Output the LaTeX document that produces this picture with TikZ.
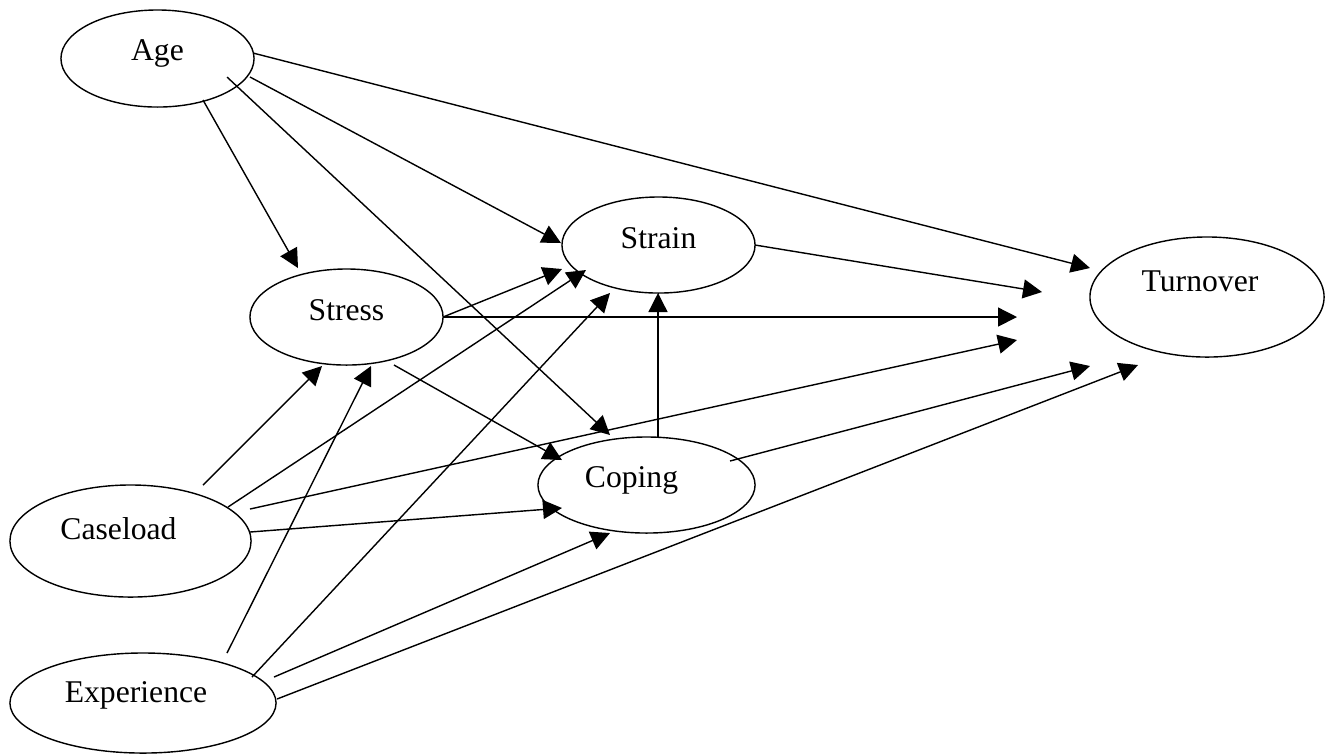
\documentclass[tikz,border=0pt]{standalone}
\usepackage{fontspec}
\setmainfont{Liberation Serif}
\usetikzlibrary{shapes.geometric,arrows.meta}
\tikzset{
	var/.style={draw,ellipse,line width=0.4pt,inner sep=0pt},
	vartext/.style={font=\fontsize{9}{11}\selectfont},
	link/.style={-{Triangle[length=5.4pt,width=5.4pt]},line width=0.4pt}
}
\begin{document}
\begin{tikzpicture}[x=0.01cm,y=-0.01cm]
\useasboundingbox (0,0) rectangle (1328,753);
\node[var,minimum width=1.93cm,minimum height=0.97cm,label={[vartext,yshift=0.055cm]center:Age}] (age) at (157.5,58.5) {};
\node[var,minimum width=1.93cm,minimum height=0.96cm,label={[vartext,yshift=0.065cm]center:Stress}] (stress) at (346.5,317) {};
\node[var,minimum width=1.93cm,minimum height=0.96cm,label={[vartext,yshift=0.07cm]center:Strain}] (strain) at (658.5,245) {};
\node[var,minimum width=2.34cm,minimum height=1.2cm,label={[vartext,xshift=-0.07cm,yshift=0.155cm]center:Turnover}] (turnover) at (1207,297) {};
\node[var,minimum width=2.17cm,minimum height=0.96cm,label={[vartext,xshift=-0.15cm,yshift=0.05cm]center:Coping}] (coping) at (646.5,485) {};
\node[var,minimum width=2.41cm,minimum height=1.12cm,label={[vartext,xshift=-0.12cm,yshift=0.125cm]center:Caseload}] (caseload) at (130.5,541) {};
\node[var,minimum width=2.66cm,minimum height=1cm,label={[vartext,xshift=-0.07cm,yshift=0.075cm]center:Experience}] (experience) at (143,703) {};
% from age
\draw[link] ([shift={(95.5,-5.5)}]age.center) -- ([shift={(-117,-29)}]turnover.center);
\draw[link] ([shift={(92.5,18.5)}]age.center) -- ([shift={(-97.5,-2)}]strain.center);
\draw[link] ([shift={(69.5,18.5)}]age.center) -- ([shift={(-36.5,-50)}]coping.center);
\draw[link] ([shift={(45.5,41.5)}]age.center) -- ([shift={(-48.5,-49)}]stress.center);
% from stress
\draw[link] ([shift={(96.5,0)}]stress.center) -- ([shift={(-96.5,24)}]strain.center);
\draw[link] ([shift={(96.5,0)}]stress.center) -- ([shift={(-190,20)}]turnover.center);
\draw[link] ([shift={(47.5,48)}]stress.center) -- ([shift={(-84.5,-25)}]coping.center);
% from strain and coping
\draw[link] ([shift={(96.5,0)}]strain.center) -- ([shift={(-165,-5)}]turnover.center);
\draw[link] ([shift={(11.5,-48)}]coping.center) -- ([shift={(-0.5,48)}]strain.center);
\draw[link] ([shift={(83.5,-24)}]coping.center) -- ([shift={(-117,69)}]turnover.center);
% from caseload
\draw[link] ([shift={(72.5,-56)}]caseload.center) -- ([shift={(-24.5,49)}]stress.center);
\draw[link] ([shift={(97.5,-34)}]caseload.center) -- ([shift={(-72.5,25)}]strain.center);
\draw[link] ([shift={(119.5,-32)}]caseload.center) -- ([shift={(-190,43)}]turnover.center);
\draw[link] ([shift={(119.5,-9)}]caseload.center) -- ([shift={(-84.5,23)}]coping.center);
% from experience
\draw[link] ([shift={(84,-50)}]experience.center) -- ([shift={(24.5,49)}]stress.center);
\draw[link] ([shift={(109,-26)}]experience.center) -- ([shift={(-48.5,48)}]strain.center);
\draw[link] ([shift={(131,-26)}]experience.center) -- ([shift={(-36.5,48)}]coping.center);
\draw[link] ([shift={(134,-4)}]experience.center) -- ([shift={(-69,68)}]turnover.center);
\end{tikzpicture}
\end{document}
